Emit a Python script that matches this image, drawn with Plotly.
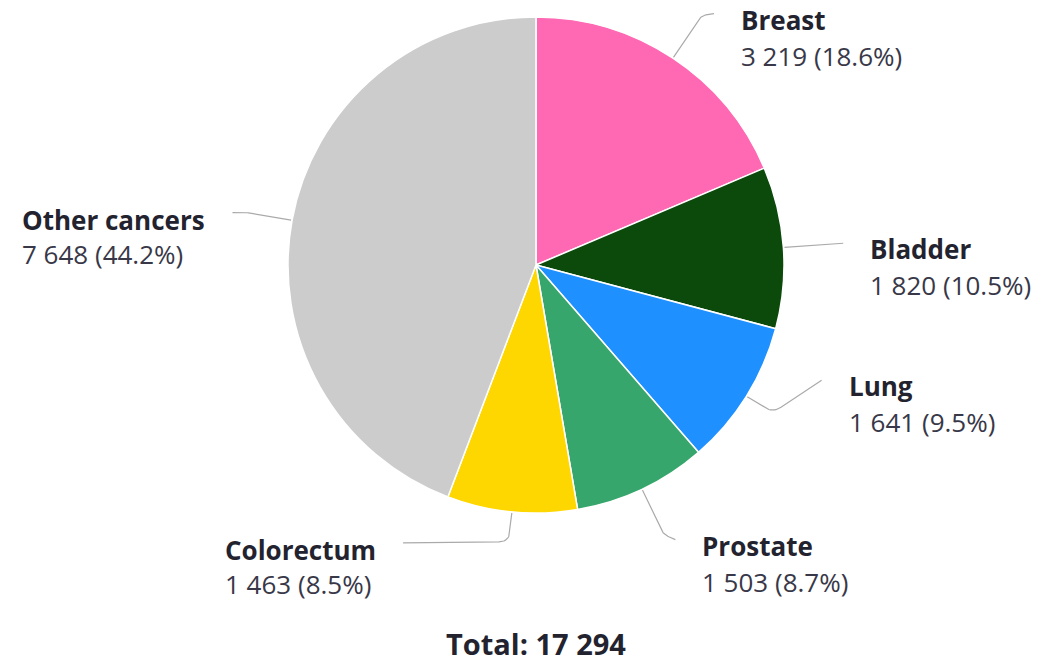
import numpy as np
import plotly.graph_objects as go

# ---------------- data ----------------
categories = ["Breast", "Bladder", "Lung", "Prostate", "Colorectum", "Other cancers"]
values = [3219, 1820, 1641, 1503, 1463, 7648]
colors = ["#FF69B4", "#0B4A0B", "#1E90FF", "#36A66C", "#FFD700", "#CCCCCC"]

# label layout tweaks (degrees added to mid-angle, radius of connector bend)
label_angle_shift = [1.8, 0.0, -10.0, -1.6, 20.0, -0.6]
bend_radius = [299, 290, 279, 298, 278, 290]

# ---------------- geometry ----------------
W, H = 1049, 662
CX, CY, R = 536, 265, 248
END_R = 308
FONT = "Open Sans, Noto Sans, sans-serif"
FS = 26
NAME_COLOR = "#23232F"
VALUE_COLOR = "#383848"

total = sum(values)
fracs = np.array(values) / total
cum = np.concatenate([[0], np.cumsum(fracs)])
mid_deg = (cum[:-1] + fracs / 2) * 360.0


def polar(r, deg):
    a = np.deg2rad(deg)
    return CX + r * np.sin(a), CY - r * np.cos(a)


def fmt(v):
    return f"{v:,}".replace(",", " ")


fig = go.Figure()

fig.add_trace(go.Pie(
    labels=categories,
    values=values,
    marker=dict(colors=colors, line=dict(color="white", width=1.5)),
    sort=False,
    direction="clockwise",
    rotation=0,
    textinfo="none",
    hoverinfo="label+value+percent",
    showlegend=False,
    domain=dict(x=[(CX - R) / W, (CX + R) / W], y=[1 - (CY + R) / H, 1 - (CY - R) / H]),
))

annotations = []
for i, cat in enumerate(categories):
    m = mid_deg[i]
    la = m + label_angle_shift[i]
    p0 = np.array(polar(R + 1, m))
    pb = np.array(polar(bend_radius[i], m))
    pe = np.array(polar(END_R, la))
    # rounded corner at bend
    d1 = pb - p0
    d2 = pe - pb
    l1, l2 = np.linalg.norm(d1), np.linalg.norm(d2)
    rc = min(10, 0.45 * l1, 0.45 * l2)
    a = pb - d1 / l1 * rc
    b = pb + d2 / l2 * rc
    t = np.linspace(0, 1, 12)
    curve = ((1 - t) ** 2)[:, None] * a + (2 * (1 - t) * t)[:, None] * pb + (t ** 2)[:, None] * b
    pts = np.vstack([p0, curve, pe])
    fig.add_trace(go.Scatter(
        x=pts[:, 0], y=pts[:, 1], mode="lines",
        line=dict(color="#AAAAAA", width=1.2),
        hoverinfo="skip", showlegend=False,
    ))
    value_text = f"{fmt(values[i])} ({values[i] / total * 100:.1f}%)"
    right = np.sin(np.deg2rad(la)) > 0
    if right:
        tx = pe[0] + 25
        annotations.append(dict(
            x=tx, y=pe[1] + 6, xref="x", yref="y", text=f"<b>{cat}</b>",
            showarrow=False, xanchor="left", yanchor="middle",
            font=dict(family=FONT, size=FS, color=NAME_COLOR),
        ))
        annotations.append(dict(
            x=tx, y=pe[1] + 42, xref="x", yref="y", text=value_text,
            showarrow=False, xanchor="left", yanchor="middle",
            font=dict(family=FONT, size=FS, color=VALUE_COLOR),
        ))
    else:
        tx = pe[0] - 25
        annotations.append(dict(
            x=tx, y=pe[1] + 24, xref="x", yref="y",
            text=f"<b>{cat}</b><br><span style='color:{VALUE_COLOR}'>{value_text}</span>",
            showarrow=False, xanchor="right", yanchor="middle", align="left",
            font=dict(family=FONT, size=FS, color=NAME_COLOR),
        ))

annotations.append(dict(
    x=CX, y=643, xref="x", yref="y", text=f"<b>Total: {fmt(total)}</b>",
    showarrow=False, xanchor="center", yanchor="middle",
    font=dict(family=FONT, size=29, color=NAME_COLOR),
))

fig.update_layout(
    width=W, height=H,
    margin=dict(l=0, r=0, t=0, b=0),
    paper_bgcolor="white", plot_bgcolor="white",
    xaxis=dict(range=[0, W], visible=False, fixedrange=True, domain=[0, 1]),
    yaxis=dict(range=[H, 0], visible=False, fixedrange=True, domain=[0, 1]),
    annotations=annotations,
    showlegend=False,
)

fig.write_html("out.html", config={"displayModeBar": False},
               post_script="document.body.style.margin='0';")
